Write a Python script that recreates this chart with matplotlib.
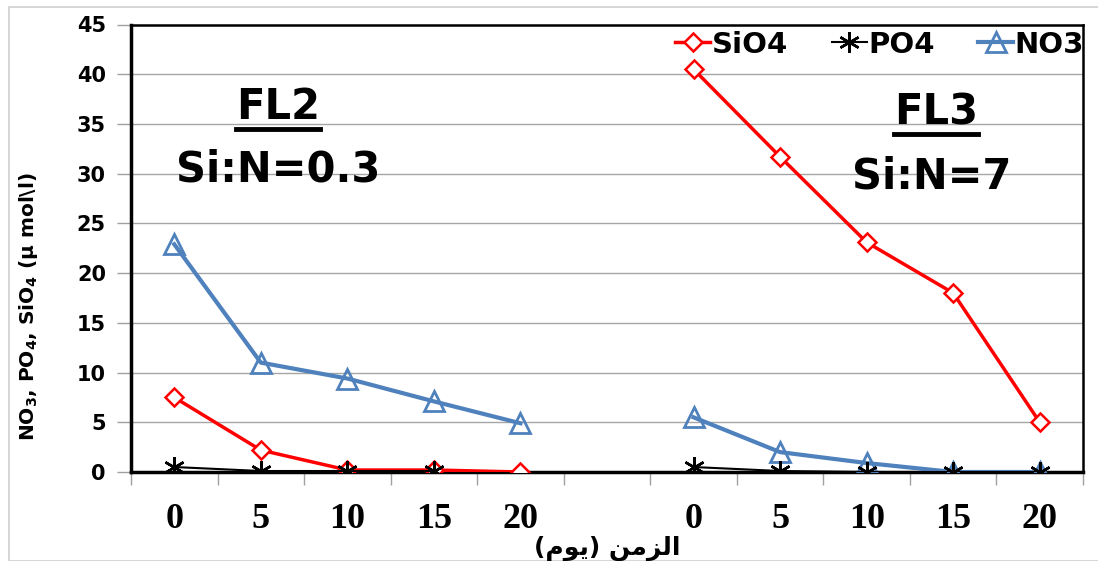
import numpy as np
import matplotlib
matplotlib.use("Agg")
import matplotlib.pyplot as plt
from matplotlib.lines import Line2D
from matplotlib.patches import Rectangle

plt.rcParams["font.family"] = ["DejaVu Sans"]
plt.rcParams["font.weight"] = "bold"
plt.rcParams["mathtext.fontset"] = "custom"
plt.rcParams["mathtext.rm"] = "DejaVu Sans:bold"
plt.rcParams["mathtext.default"] = "rm"

nan = np.nan
days = ["0", "5", "10", "15", "20", "", "0", "5", "10", "15", "20"]
sio4 = [7.5, 2.2, 0.2, 0.2, 0.0, nan, 40.5, 31.7, 23.1, 18.0, 5.0]
po4 = [0.5, 0.1, 0.1, 0.1, nan, nan, 0.5, 0.1, 0.0, 0.0, 0.0]
no3 = [22.9, 11.0, 9.4, 7.1, 4.9, nan, 5.5, 2.0, 0.9, 0.0, 0.0]

RED = "#FF0000"
BLUE = "#4F81BD"

# "الزمن (يوم)" in visual order with Arabic presentation forms
XLABEL = "(\uFEE1\uFEEE\uFEF3) \uFEE6\uFEE3\uFEB0\uFEDF\uFE8D"

fig = plt.figure(figsize=(10.98, 5.61), dpi=100)
fig.patches.append(Rectangle((9 / 1098, 0), 1.0, 1 - 7 / 561, transform=fig.transFigure,
                             fill=False, edgecolor="#D0D0D0", linewidth=1.2))
ax = fig.add_axes([131 / 1098, 1 - 472 / 561, (1083 - 131) / 1098, (472 - 24.5) / 561])

x = np.arange(len(days))
ax.plot(x, sio4, color=RED, lw=2.5, marker="D", ms=9, mfc="white", mec=RED, mew=1.8,
        label="SiO4", zorder=3)
ax.plot(x, no3, color=BLUE, lw=3, marker="^", ms=14, mfc="none", mec=BLUE, mew=2,
        label="NO3", zorder=4)
ax.plot(x, po4, color="black", lw=1.5, marker=(6, 2, 0), ms=15, mec="black", mew=1.8,
        label="PO4", zorder=5)

ax.set_xlim(-0.5, len(days) - 0.5)
ax.set_ylim(0, 45)
ax.set_yticks(np.arange(0, 46, 5))
ax.set_xticks(x)
ax.set_xticklabels(days, fontfamily="Liberation Serif", fontweight="bold", fontsize=26)
ax.set_xticks(np.arange(-0.5, len(days), 1.0), minor=True)
ax.tick_params(axis="x", which="major", length=0, pad=22)
ax.tick_params(axis="x", which="minor", length=9, color="#A0A0A0", width=1, direction="out")
ax.tick_params(axis="y", length=10, color="#A0A0A0", width=1, labelsize=15, pad=8)
for lab in ax.get_yticklabels():
    lab.set_fontweight("bold")

ax.grid(axis="y", color="#A6A6A6", lw=1)
ax.set_axisbelow(True)
for side in ["left", "bottom"]:
    ax.spines[side].set_linewidth(2.5)
for side in ["top", "right"]:
    ax.spines[side].set_linewidth(1.8)

ax.set_ylabel("NO$_3$, PO$_4$, SiO$_4$ ($\\mu$ mol\\l)", fontsize=14.5, fontweight="bold")
ax.yaxis.set_label_coords(-0.0956, 0.37)
fig.text(607 / 1098, 1 - 548 / 561, XLABEL, ha="center", va="center", fontsize=18,
         fontweight="bold")

h, l = ax.get_legend_handles_labels()
order = [0, 2, 1]
ax.legend([h[i] for i in order], [l[i] for i in order], loc="upper right",
          bbox_to_anchor=(1.029, 1.045), ncol=3, frameon=False,
          handlelength=1.2, handletextpad=0.05, columnspacing=1.5,
          prop={"weight": "bold", "size": 21})

titles = []
titles.append(ax.text(1.2, 36.7, "FL2", ha="center", va="center", fontsize=30, fontweight="bold"))
ax.text(1.2, 30.4, "Si:N=0.3", ha="center", va="center", fontsize=30, fontweight="bold")
titles.append(ax.text(8.8, 36.2, "FL3", ha="center", va="center", fontsize=30, fontweight="bold"))
ax.text(8.75, 29.7, "Si:N=7", ha="center", va="center", fontsize=30, fontweight="bold")

# underline the group titles
fig.canvas.draw()
r = fig.canvas.get_renderer()
for t in titles:
    bb = t.get_window_extent(renderer=r)
    y0 = bb.y0 - 1
    fig.add_artist(Line2D([bb.x0 / fig.bbox.width, bb.x1 / fig.bbox.width],
                          [y0 / fig.bbox.height, y0 / fig.bbox.height],
                          transform=fig.transFigure, color="black", lw=3.5))

fig.savefig("out.png", dpi=100)
